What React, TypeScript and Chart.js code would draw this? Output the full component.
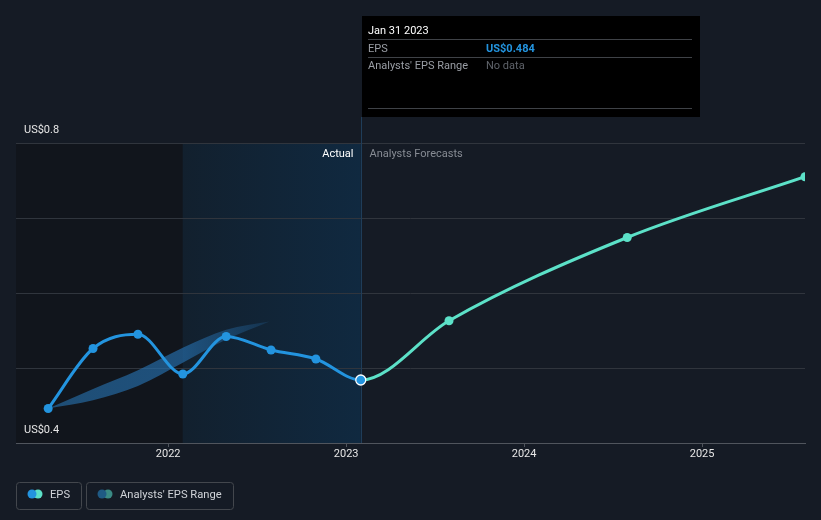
import React, { useEffect, useRef } from "react";
import { Chart, registerables } from "chart.js";

Chart.register(...registerables);

// ---- data ----
const actualDates = ["2021-04-30", "2021-07-31", "2021-10-31", "2022-01-31", "2022-04-30", "2022-07-31", "2022-10-31", "2023-01-31"];
const actualEps = [0.446, 0.526, 0.545, 0.492, 0.542, 0.524, 0.512, 0.484];

const forecastDates = ["2023-01-31", "2023-07-31", "2024-07-31", "2025-07-31"];
const forecastEps = [0.484, 0.563, 0.674, 0.755];

const rangeDates = ["2021-04-30", "2021-07-31", "2021-10-31", "2022-01-31", "2022-04-30", "2022-07-28"];
const rangeLow = [0.446, 0.457, 0.476, 0.507, 0.538, 0.562];
const rangeHigh = [0.446, 0.472, 0.497, 0.527, 0.551, 0.562];

const xTickYears = [2022, 2023, 2024, 2025];
const yTickValues = [0.4, 0.5, 0.6, 0.7, 0.8];
const yLabelValues = [0.8, 0.4];

const tooltipDate = "Jan 31 2023";
const tooltipEps = "US$0.484";

const FONT = "Roboto, 'Noto Sans', sans-serif";

function fy(d: string): number {
  const [y, m, day] = d.split("-").map(Number);
  const start = Date.UTC(y, 0, 1);
  const end = Date.UTC(y + 1, 0, 1);
  return y + (Date.UTC(y, m - 1, day) - start) / (end - start);
}

const pts = (dates: string[], vals: number[]) => dates.map((d, i) => ({ x: fy(d), y: vals[i] }));

// Continuous series so the smoothing matches across the actual/forecast join
const actualSeries = [...pts(actualDates, actualEps), pts(forecastDates, forecastEps)[1]];
const forecastSeries = [pts(actualDates, actualEps)[actualDates.length - 2], ...pts(forecastDates, forecastEps)];

const overlayPlugin = {
  id: "overlay",
  beforeDraw(chart: any) {
    const { ctx, chartArea: ca, scales } = chart;
    const W = chart.width, H = chart.height;
    ctx.save();
    ctx.fillStyle = "#151b25";
    ctx.fillRect(0, 0, W, H);
    const xs = scales.x;
    const xA = xs.getPixelForValue(fy("2022-01-31"));
    const xB = xs.getPixelForValue(fy("2023-01-31"));
    ctx.fillStyle = "#11151c";
    ctx.fillRect(ca.left, ca.top, xA - ca.left, ca.bottom - ca.top);
    const g = ctx.createLinearGradient(xA, 0, xB, 0);
    g.addColorStop(0, "rgba(18,32,46,1)");
    g.addColorStop(1, "rgba(16,41,64,1)");
    ctx.fillStyle = g;
    ctx.fillRect(xA, ca.top, xB - xA, ca.bottom - ca.top);
    ctx.restore();
  },
  afterDraw(chart: any) {
    const { ctx, chartArea: ca, scales } = chart;
    const xs = scales.x, ys = scales.y;
    const xB = Math.round(xs.getPixelForValue(fy("2023-01-31"))) + 0.5;
    ctx.save();
    // vertical marker line
    ctx.strokeStyle = "#1f3d59";
    ctx.lineWidth = 1;
    ctx.beginPath();
    ctx.moveTo(xB, 117);
    ctx.lineTo(xB, ca.bottom);
    ctx.stroke();

    // highlighted (hovered) point
    const meta = chart.getDatasetMeta(0);
    const el = meta.data[actualDates.length - 1];
    if (el) {
      ctx.fillStyle = "#2394df";
      ctx.strokeStyle = "#ffffff";
      ctx.lineWidth = 1.3;
      ctx.beginPath();
      ctx.arc(el.x, el.y, 5, 0, Math.PI * 2);
      ctx.fill();
      ctx.stroke();
    }

    // Actual / forecast labels
    ctx.font = `11px ${FONT}`;
    ctx.textBaseline = "middle";
    ctx.textAlign = "right";
    ctx.fillStyle = "#ffffff";
    ctx.fillText("Actual", xB - 8, 154);
    ctx.textAlign = "left";
    ctx.fillStyle = "#878c94";
    ctx.fillText("Analysts Forecasts", xB + 8, 154);

    // y labels
    ctx.fillStyle = "#e6e6e6";
    ctx.font = `11px ${FONT}`;
    for (const v of yLabelValues) {
      const y = ys.getPixelForValue(v);
      ctx.fillText("US$" + v.toFixed(1), 24, y - 13);
    }

    // tooltip box
    const tx = 362, ty = 16, tw = 338, th = 101;
    ctx.fillStyle = "#000000";
    ctx.fillRect(tx, ty, tw, th);
    ctx.strokeStyle = "#3f4247";
    ctx.lineWidth = 1;
    for (const ly of [39.5, 57.5, 108.5]) {
      ctx.beginPath();
      ctx.moveTo(tx + 6, ly);
      ctx.lineTo(tx + tw - 8, ly);
      ctx.stroke();
    }
    ctx.font = `11px ${FONT}`;
    ctx.fillStyle = "#ffffff";
    ctx.fillText(tooltipDate, tx + 6, 31);
    ctx.fillStyle = "#9a9ea5";
    ctx.fillText("EPS", tx + 6, 49);
    ctx.fillText("Analysts' EPS Range", tx + 6, 66);
    ctx.font = `bold 11px ${FONT}`;
    ctx.fillStyle = "#2394df";
    ctx.fillText(tooltipEps, tx + 124, 49);
    ctx.font = `11px ${FONT}`;
    ctx.fillStyle = "#5f636a";
    ctx.fillText("No data", tx + 124, 66);

    // legend
    const items = [
      { x: 16, w: 65, label: "EPS", c1: "#2394df", c2: "#5ce1c8" },
      { x: 86, w: 147, label: "Analysts' EPS Range", c1: "#1f5a84", c2: "#3a8a84" },
    ];
    for (const it of items) {
      ctx.strokeStyle = "#43474d";
      ctx.lineWidth = 1;
      ctx.beginPath();
      (ctx as any).roundRect(it.x + 0.5, 482.5, it.w, 27, 3);
      ctx.stroke();
      ctx.fillStyle = it.c2;
      ctx.beginPath();
      ctx.arc(it.x + 22, 494, 4.5, 0, Math.PI * 2);
      ctx.fill();
      ctx.fillStyle = it.c1;
      ctx.beginPath();
      ctx.arc(it.x + 16, 494, 4.5, 0, Math.PI * 2);
      ctx.fill();
      ctx.fillStyle = "#d0d3d8";
      ctx.font = `11.2px ${FONT}`;
      ctx.fillText(it.label, it.x + 34, 495);
    }
    ctx.restore();
  },
};

export default function App() {
  const ref = useRef<HTMLCanvasElement | null>(null);
  useEffect(() => {
    const canvas = ref.current;
    if (!canvas) return;
    const nA = actualSeries.length;
    const chart = new Chart(canvas, {
      type: "line",
      data: {
        datasets: [
          {
            data: actualSeries,
            order: 0,
            borderColor: "#2394df",
            backgroundColor: "#2394df",
            borderWidth: 3,
            cubicInterpolationMode: "monotone",
            segment: { borderColor: (s: any) => (s.p1DataIndex === nA - 1 ? "rgba(0,0,0,0)" : undefined) },
            pointRadius: actualSeries.map((_, i) => (i >= nA - 2 ? 0 : 4.5)),
            pointBorderWidth: 0,
            fill: false,
          },
          {
            data: forecastSeries,
            order: 1,
            borderColor: "#5ce1c8",
            backgroundColor: "#5ce1c8",
            borderWidth: 3,
            cubicInterpolationMode: "monotone",
            segment: { borderColor: (s: any) => (s.p0DataIndex === 0 ? "rgba(0,0,0,0)" : undefined) },
            pointRadius: forecastSeries.map((_, i) => (i <= 1 ? 0 : 4.5)),
            pointBorderWidth: 0,
            fill: false,
          },
          {
            data: pts(rangeDates, rangeLow),
            order: 2,
            borderWidth: 0,
            borderColor: "rgba(0,0,0,0)",
            pointRadius: 0,
            cubicInterpolationMode: "monotone",
            fill: false,
          },
          {
            data: pts(rangeDates, rangeHigh),
            order: 3,
            borderWidth: 0,
            borderColor: "rgba(0,0,0,0)",
            pointRadius: 0,
            cubicInterpolationMode: "monotone",
            fill: 2,
            backgroundColor: (c: any) => {
              const ca = c.chart.chartArea;
              if (!ca) return "rgba(36,110,170,0.6)";
              const xs = c.chart.scales.x;
              const g = c.chart.ctx.createLinearGradient(xs.getPixelForValue(fy(rangeDates[0])), 0, xs.getPixelForValue(fy(rangeDates[rangeDates.length - 1])), 0);
              g.addColorStop(0, "rgba(38,108,165,0.65)");
              g.addColorStop(0.6, "rgba(38,112,175,0.65)");
              g.addColorStop(1, "rgba(38,112,175,0.2)");
              return g;
            },
          },
        ],
      },
      options: {
        animation: false,
        responsive: false,
        events: [],
        layout: { padding: { left: 16, right: 16, top: 143, bottom: 57 } },
        plugins: { legend: { display: false }, tooltip: { enabled: false } },
        scales: {
          x: {
            type: "linear",
            min: fy("2021-02-23"),
            max: fy("2025-07-31"),
            afterBuildTicks: (s: any) => {
              s.ticks = xTickYears.map((v) => ({ value: v }));
            },
            afterFit: (s: any) => {
              s.height = 20;
            },
            ticks: {
              color: "#e6e6e6",
              font: { family: FONT, size: 11 },
              padding: 1,
              maxRotation: 0,
              callback: (v: any) => String(v),
            },
            grid: { drawOnChartArea: false, drawTicks: true, tickLength: 4, color: "#50555d" },
            border: { display: true, color: "#50555d", width: 1 },
          },
          y: {
            type: "linear",
            min: 0.4,
            max: 0.8,
            afterBuildTicks: (s: any) => {
              s.ticks = yTickValues.map((v) => ({ value: v }));
            },
            afterFit: (s: any) => {
              s.width = 0;
            },
            ticks: { display: false },
            grid: { color: "#30353d", drawTicks: false },
            border: { display: false },
          },
        },
      },
      plugins: [overlayPlugin],
    } as any);
    return () => chart.destroy();
  }, []);
  return (
    <div style={{ position: "fixed", left: 0, top: 0, width: 821, height: 520 }}>
      <canvas ref={ref} width={821} height={520} style={{ width: 821, height: 520, display: "block" }} />
    </div>
  );
}
